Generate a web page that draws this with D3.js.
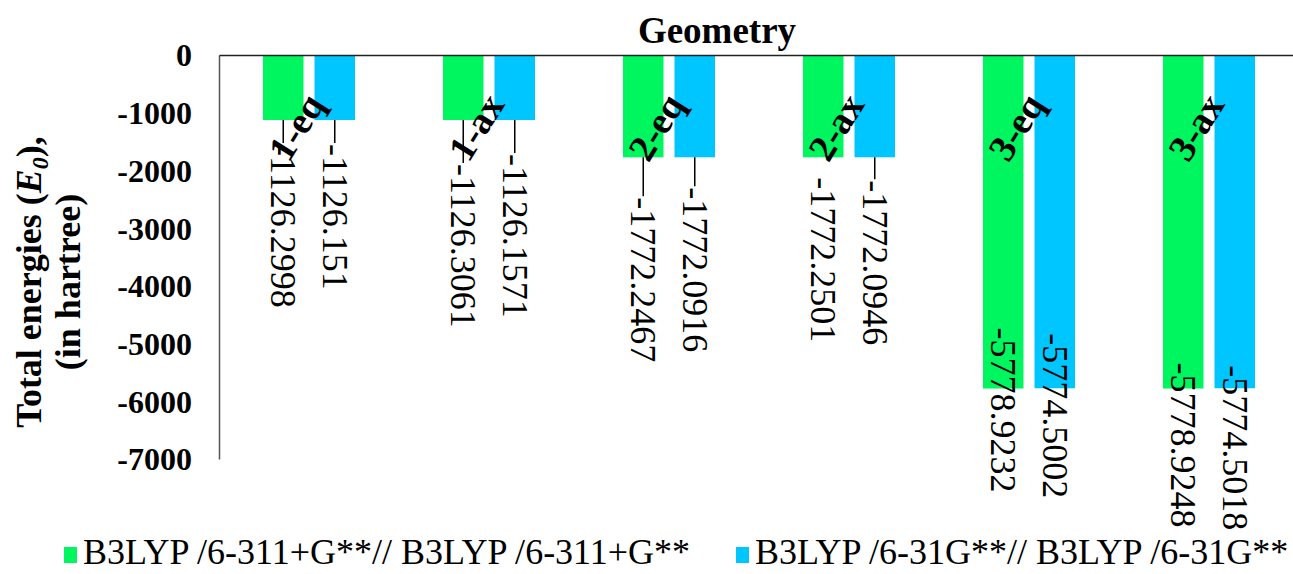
<!DOCTYPE html>
<html>
<head>
<meta charset="utf-8">
<script src="https://cdn.jsdelivr.net/npm/d3@7"></script>
<style>
  html, body { margin: 0; padding: 0; background: #fff; }
  svg { display: block; font-family: "Liberation Serif", "Times New Roman", serif; }
</style>
</head>
<body>
<svg id="chart" width="1293" height="574"></svg>
<script>
// Conformers and total energies (hartree) at two levels of theory
const categories = ["1-eq", "1-ax", "2-eq", "2-ax", "3-eq", "3-ax"];
const seriesNames = [
  "B3LYP /6-311+G**// B3LYP /6-311+G**",
  "B3LYP /6-31G**// B3LYP /6-31G**"
];
const energiesLarge = [-1126.2998, -1126.3061, -1772.2467, -1772.2501, -5778.9232, -5778.9248];
const energiesSmall = [-1126.151, -1126.1571, -1772.0916, -1772.0946, -5774.5002, -5774.5018];
const yTicks = [0, -1000, -2000, -3000, -4000, -5000, -6000, -7000];
const colors = ["#00f65e", "#00c6ff"];

// Label placement: distance (px) from the bar end to the start of each value label
const labelShift = [
  [27, 27], [47, 37], [43, 33], [23, 26], [-58, -52], [-23, -20]
];

const svg = d3.select("#chart");
const plot = { left: 219, right: 1299, top: 55, bottom: 459 };

const x = d3.scaleBand().domain(categories).range([plot.left, plot.right]).padding(0);
const xs = d3.scaleBand().domain([0, 1]).range([44, 136]).paddingInner(0.214).paddingOuter(0);
const y = d3.scaleLinear().domain([-7000, 0]).range([plot.bottom, plot.top]);

const rows = categories.map((c, i) => ({
  cat: c,
  vals: [energiesLarge[i], energiesSmall[i]],
  shift: labelShift[i]
}));

// Bars
const groups = svg.selectAll("g.cat").data(rows).join("g")
  .attr("class", "cat")
  .attr("transform", d => `translate(${x(d.cat)},0)`);

groups.selectAll("rect").data(d => d.vals.map((v, s) => ({ v, s }))).join("rect")
  .attr("x", d => xs(d.s))
  .attr("width", xs.bandwidth())
  .attr("y", y(0))
  .attr("height", d => y(d.v) - y(0))
  .attr("fill", d => colors[d.s]);

// Value axis (left)
const yAxis = d3.axisLeft(y).tickValues(yTicks).tickSize(0).tickPadding(27)
  .tickFormat(d => String(d));
const ya = svg.append("g").attr("transform", `translate(${plot.left},0)`).call(yAxis);
ya.select(".domain").attr("stroke", "#555").attr("stroke-width", 1.5);
ya.selectAll("text")
  .attr("font-family", "Liberation Serif, serif")
  .attr("font-size", 32).attr("font-weight", "bold").attr("fill", "#000")
  .attr("dy", "0.34em");

// Category axis line at zero
const xAxis = d3.axisTop(x).tickSize(0).tickFormat("");
const xa = svg.append("g").attr("transform", `translate(0,${y(0)})`).call(xAxis);
xa.select(".domain").attr("stroke", "#222").attr("stroke-width", 1.5);

// Category labels, slanted
svg.append("g").selectAll("text").data(categories).join("text")
  .attr("transform", d => `translate(${x(d) + x.bandwidth() / 2 - 13},127) rotate(-58)`)
  .attr("text-anchor", "middle")
  .attr("dominant-baseline", "central")
  .attr("font-size", 38).attr("font-weight", "bold")
  .text(d => d);

// Value labels with leader lines
const labels = [];
rows.forEach(r => r.vals.forEach((v, s) => {
  const cx = x(r.cat) + xs(s) + xs.bandwidth() / 2;
  labels.push({ cx, yEnd: y(v), start: y(v) + r.shift[s], shift: r.shift[s], v });
}));

svg.append("g").selectAll("line").data(labels.filter(d => d.shift > 24)).join("line")
  .attr("x1", d => d.cx).attr("x2", d => d.cx)
  .attr("y1", d => d.yEnd).attr("y2", d => d.start - 4)
  .attr("stroke", "#000").attr("stroke-width", 1.5);

svg.append("g").selectAll("text").data(labels).join("text")
  .attr("transform", d => `translate(${d.cx},${d.start - 3}) rotate(90)`)
  .attr("text-anchor", "start")
  .attr("dominant-baseline", "central")
  .attr("font-size", 36)
  .text(d => String(d.v));

// Chart title
svg.append("text")
  .attr("x", 717).attr("y", 43)
  .attr("text-anchor", "middle")
  .attr("font-size", 37).attr("font-weight", "bold")
  .text("Geometry");

// Value axis title, two lines
const yt = svg.append("g").attr("transform", "translate(0,282) rotate(-90)");
const l1 = yt.append("text").attr("y", 41).attr("text-anchor", "middle")
  .attr("font-size", 36).attr("font-weight", "bold");
l1.append("tspan").text("Total energies (");
l1.append("tspan").attr("font-style", "italic").text("E");
l1.append("tspan").attr("font-style", "italic").attr("font-size", 24).attr("dy", 7).text("0");
l1.append("tspan").attr("dy", -7).text("),");
yt.append("text").attr("y", 80).attr("text-anchor", "middle")
  .attr("font-size", 36).attr("font-weight", "bold")
  .text("(in hartree)");

// Legend
const legendX = [64, 736];
const lg = svg.append("g").selectAll("g").data(seriesNames).join("g")
  .attr("transform", (d, i) => `translate(${legendX[i]},0)`);
lg.append("rect").attr("x", 0).attr("y", 547).attr("width", 13).attr("height", 16)
  .attr("fill", (d, i) => colors[i]);
lg.append("text").attr("x", 19).attr("y", 564)
  .attr("font-size", 36)
  .text(d => d);
</script>
</body>
</html>
